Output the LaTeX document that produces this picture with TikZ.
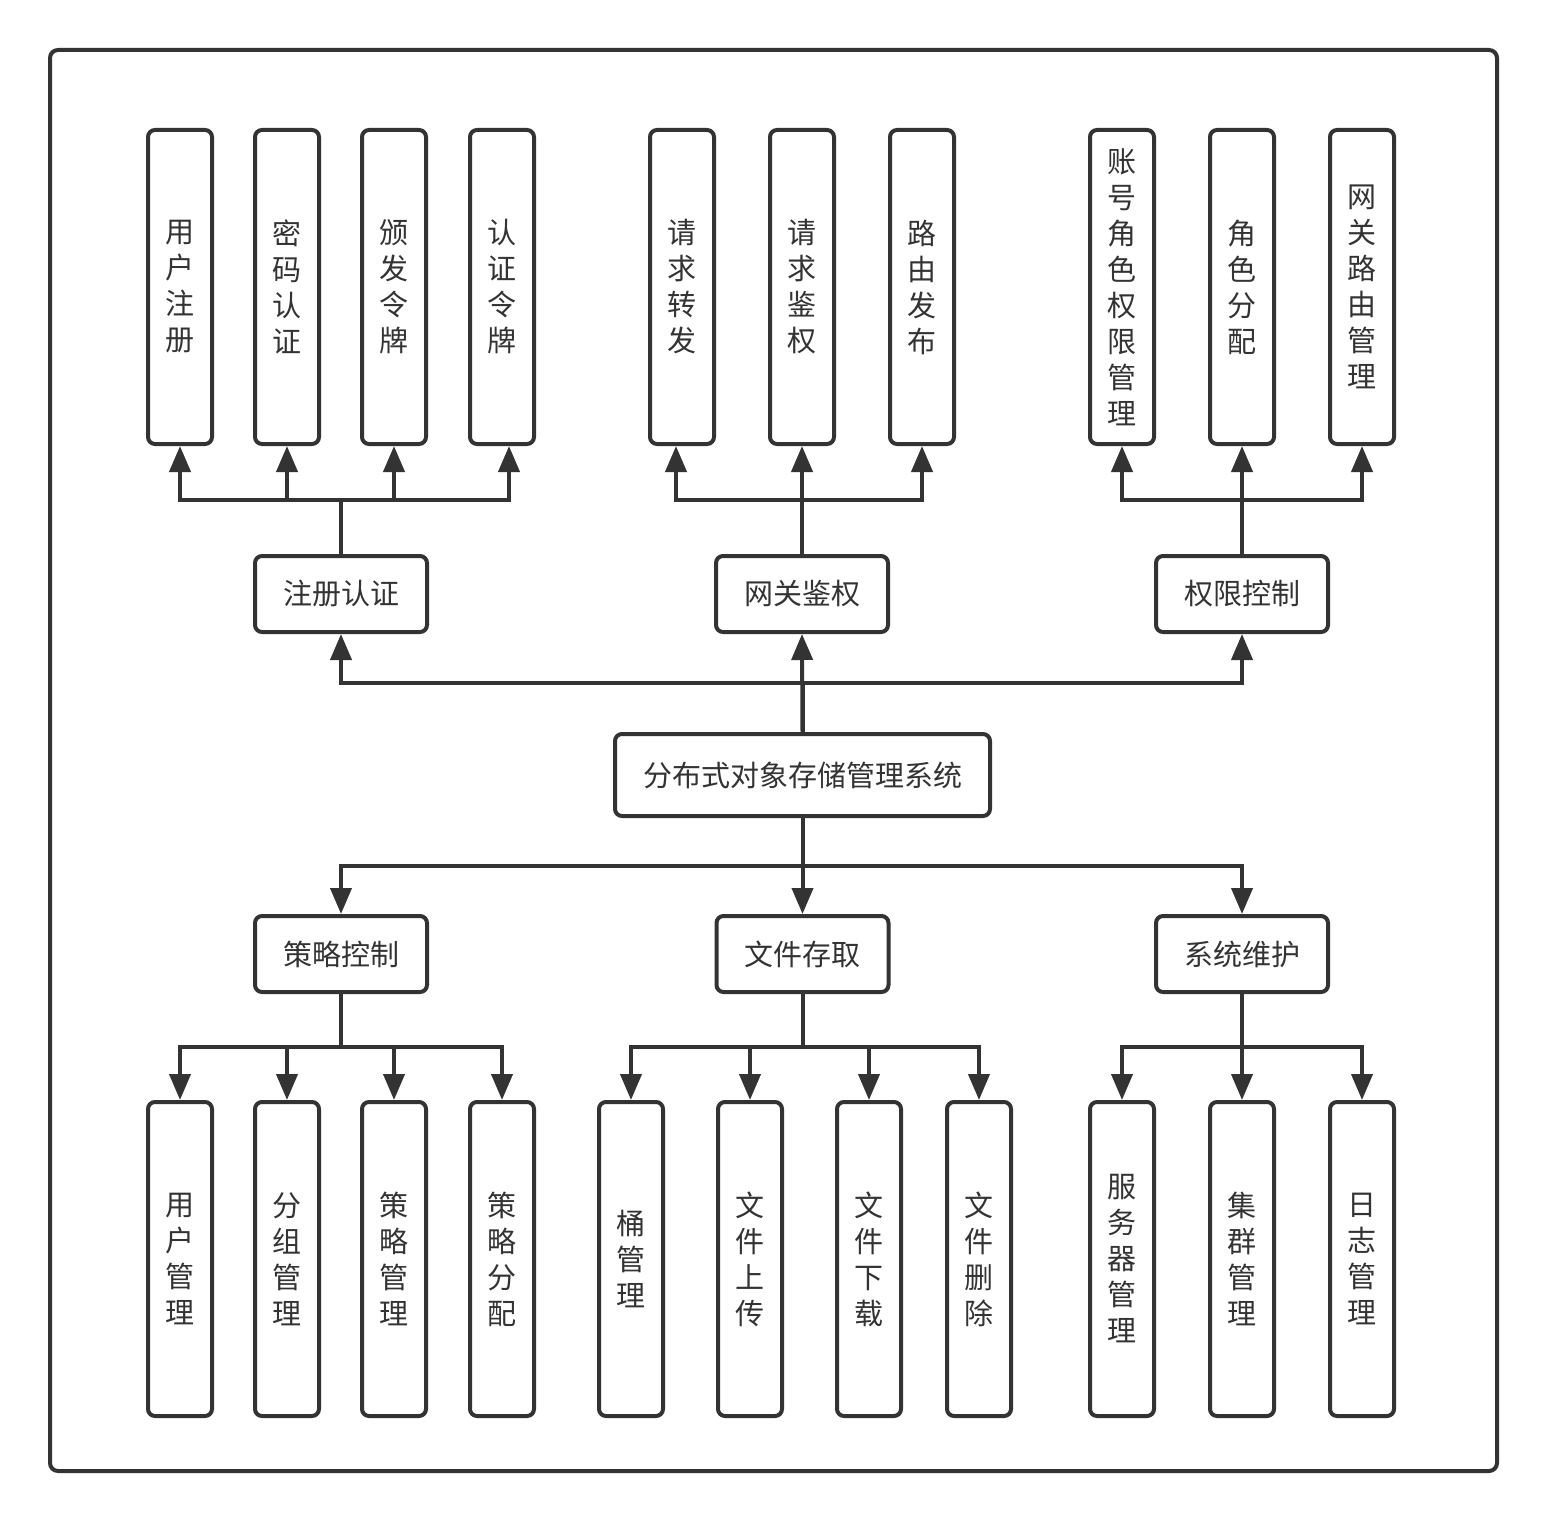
\documentclass[tikz,border=0pt]{standalone}
\usepackage{fontspec}
\newfontfamily\cjk{Noto Sans CJK SC}
\usetikzlibrary{arrows.meta}
\definecolor{ink}{HTML}{333333}
\begin{document}
\begin{tikzpicture}[x=1pt,y=-1pt,
  box/.style={draw=ink, line width=4pt, rounded corners=7pt, fill=white, inner sep=0pt, text=ink, font=\cjk\fontsize{29}{36}\selectfont, align=center},
  leaf/.style={box, minimum width=64pt, minimum height=314pt},
  mid/.style={box, minimum width=172pt, minimum height=76pt},
  link/.style={draw=ink, line width=4pt},
  arr/.style={link, -{Triangle[length=26pt,width=21pt]}}]
\useasboundingbox[fill=white] (0,0) rectangle (1548,1522);
\draw[draw=ink, line width=4pt, rounded corners=8pt] (50,50) rectangle (1497,1471);

% top leaves
\node[leaf] (t1) at (180,287) {用\\户\\注\\册};
\node[leaf] (t2) at (287,287) {密\\码\\认\\证};
\node[leaf] (t3) at (394,287) {颁\\发\\令\\牌};
\node[leaf] (t4) at (502,287) {认\\证\\令\\牌};
\node[leaf] (t5) at (682,287) {请\\求\\转\\发};
\node[leaf] (t6) at (802,287) {请\\求\\鉴\\权};
\node[leaf] (t7) at (922,287) {路\\由\\发\\布};
\node[leaf] (t8) at (1122,287) {账\\号\\角\\色\\权\\限\\管\\理};
\node[leaf] (t9) at (1242,287) {角\\色\\分\\配};
\node[leaf] (t10) at (1362,287) {网\\关\\路\\由\\管\\理};

% middle level
\node[mid] (a) at (341,594) {注册认证};
\node[mid] (b) at (802,594) {网关鉴权};
\node[mid] (c) at (1242,594) {权限控制};
\node[box, minimum width=375pt, minimum height=82pt] (root) at (802.5,775) {分布式对象存储管理系统};
\node[mid] (d) at (341,954) {策略控制};
\node[mid] (e) at (802.5,954) {文件存取};
\node[mid] (f) at (1242,954) {系统维护};

% bottom leaves
\node[leaf] (b1) at (180,1259) {用\\户\\管\\理};
\node[leaf] (b2) at (287,1259) {分\\组\\管\\理};
\node[leaf] (b3) at (394,1259) {策\\略\\管\\理};
\node[leaf] (b4) at (502,1259) {策\\略\\分\\配};
\node[leaf] (b5) at (631,1259) {桶\\管\\理};
\node[leaf] (b6) at (750,1259) {文\\件\\上\\传};
\node[leaf] (b7) at (869,1259) {文\\件\\下\\载};
\node[leaf] (b8) at (979,1259) {文\\件\\删\\除};
\node[leaf] (b9) at (1122,1259) {服\\务\\器\\管\\理};
\node[leaf] (b10) at (1242,1259) {集\\群\\管\\理};
\node[leaf] (b11) at (1362,1259) {日\\志\\管\\理};

% junctions
\coordinate (ja) at (341,500);
\coordinate (jb) at (802,500);
\coordinate (jc) at (1242,500);
\coordinate (ju) at (802.5,683);
\coordinate (jl) at (802.5,866);
\coordinate (jd) at (341,1047);
\coordinate (je) at (802.5,1047);
\coordinate (jf) at (1242,1047);

% top connectors
\draw[arr] (a.north) -- (ja) -| (t1.south);
\draw[arr] (a.north) -- (ja) -| (t2.south);
\draw[arr] (a.north) -- (ja) -| (t3.south);
\draw[arr] (a.north) -- (ja) -| ([xshift=7pt]t4.south);
\draw[arr] (b.north) -- (jb) -| ([xshift=-6pt]t5.south);
\draw[arr] (b.north) -- (t6.south);
\draw[arr] (b.north) -- (jb) -| (t7.south);
\draw[arr] (c.north) -- (jc) -| (t8.south);
\draw[arr] (c.north) -- (t9.south);
\draw[arr] (c.north) -- (jc) -| (t10.south);

% root connectors
\draw[arr] (root.north) -- (ju) -| (a.south);
\draw[arr] (root.north) -- (b.south);
\draw[arr] (root.north) -- (ju) -| (c.south);
\draw[arr] (root.south) -- (jl) -| (d.north);
\draw[arr] (root.south) -- (e.north);
\draw[arr] (root.south) -- (jl) -| (f.north);

% bottom connectors
\draw[arr] (d.south) -- (jd) -| (b1.north);
\draw[arr] (d.south) -- (jd) -| (b2.north);
\draw[arr] (d.south) -- (jd) -| (b3.north);
\draw[arr] (d.south) -- (jd) -| (b4.north);
\draw[arr] (e.south) -- (je) -| (b5.north);
\draw[arr] (e.south) -- (je) -| (b6.north);
\draw[arr] (e.south) -- (je) -| (b7.north);
\draw[arr] (e.south) -- (je) -| (b8.north);
\draw[arr] (f.south) -- (jf) -| (b9.north);
\draw[arr] (f.south) -- (b10.north);
\draw[arr] (f.south) -- (jf) -| (b11.north);
\end{tikzpicture}
\end{document}
